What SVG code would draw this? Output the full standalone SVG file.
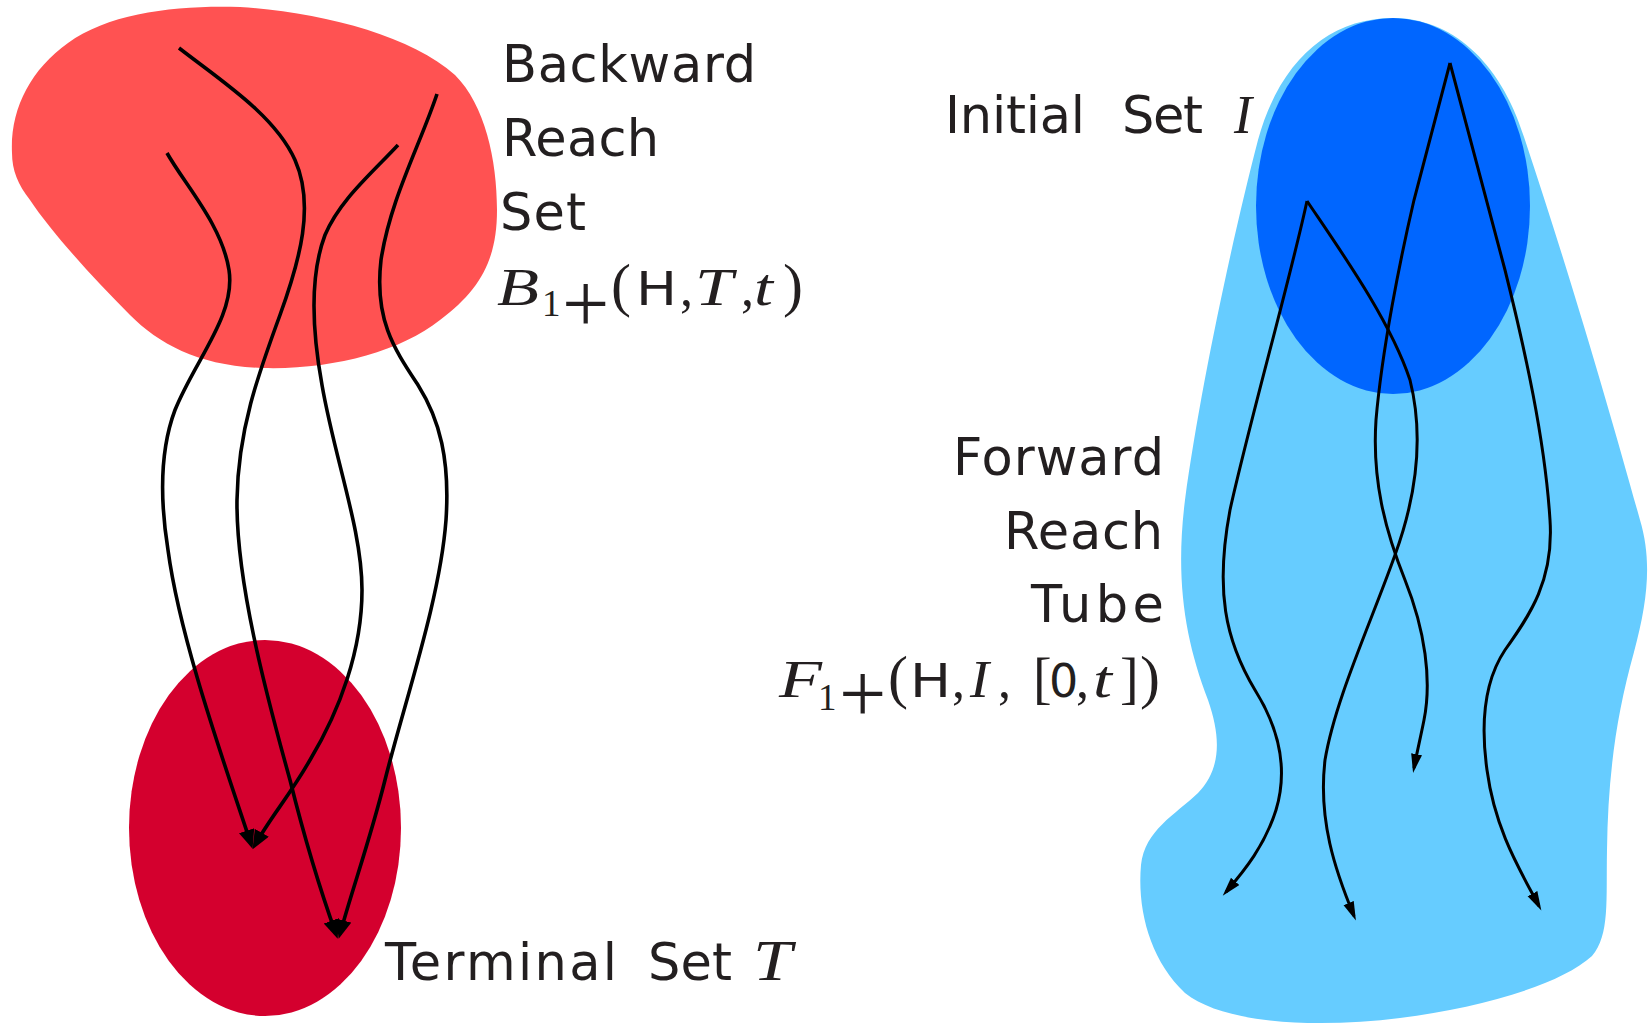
<svg xmlns="http://www.w3.org/2000/svg" width="1648" height="1024" viewBox="0 0 1648 1024">
<style>
.lbl{font-family:"DejaVu Sans",sans-serif;font-size:51px;fill:#231F20}
.m{font-family:"Liberation Serif",serif;font-size:52px;fill:#231F20}
.mi{font-style:italic}
.ms{font-family:"DejaVu Sans",sans-serif;font-size:46px}
.sub{font-size:37px}
.pl{font-size:84px}
.pa{font-size:60px}
.br{font-size:56px}
.trajL{fill:none;stroke:#000;stroke-width:3.6;marker-end:url(#ahL)}
.trajR{fill:none;stroke:#000;stroke-width:3;marker-end:url(#ahR)}
</style>
<defs>
<marker id="ahL" markerUnits="userSpaceOnUse" markerWidth="20" markerHeight="18" refX="14" refY="8" orient="auto"><path d="M0,0 L19,8 L0,16 Z" fill="#000"/></marker>
<marker id="ahR" markerUnits="userSpaceOnUse" markerWidth="20" markerHeight="12" refX="14" refY="5.5" orient="auto"><path d="M0,0 L19,5.5 L0,11 Z" fill="#000"/></marker>
</defs>
<rect width="1648" height="1024" fill="#fff"/>
<g id="backward-reach-set">
<path d="M12,153 C10,110 30,70 68,43 C110,12 180,5 240,7 C320,12 410,35 455,75 C485,105 497,160 497,210 C497,260 480,290 440,320 C400,352 330,370 263,368 C200,366 160,345 130,315 C90,275 50,230 30,200 C18,185 12,170 12,153 Z" fill="#FF5252"/>
</g>
<g id="terminal-set">
<ellipse cx="265" cy="828" rx="136" ry="188" fill="#D4002E"/>
</g>
<g id="forward-reach-tube">
<path d="M1258,140 C1232,240 1200,390 1185,500 C1175,580 1185,640 1208,700 C1222,740 1220,770 1198,793 C1175,815 1145,830 1141,865 C1137,910 1150,960 1185,993 C1225,1025 1320,1028 1400,1018 C1480,1008 1560,985 1592,956 C1610,935 1606,900 1607,850 C1608,780 1615,720 1634,652 C1648,600 1652,560 1640,520 C1615,430 1575,290 1524,137 C1500,60 1450,18 1393,18 C1330,18 1280,60 1258,140 Z" fill="#66CCFF"/>
</g>
<g id="initial-set">
<ellipse cx="1393" cy="206" rx="137" ry="188" fill="#0066FF"/>
</g>
<g id="connectors">
<path class="trajL" d="M167,153 C185,185 222,225 229,270 C236,315 195,360 175,410 C160,450 160,500 168,550 C180,640 225,765 251,844"/>
<path class="trajL" d="M179,48 C220,80 275,115 295,160 C315,205 300,260 280,315 C258,375 238,430 237,500 C236,580 265,690 290,780 C305,840 322,895 336,934"/>
<path class="trajL" d="M398,145 C370,175 340,200 325,235 C310,275 312,330 322,385 C335,460 362,530 362,590 C362,650 340,710 310,760 C290,795 270,818 255,845"/>
<path class="trajL" d="M437,94 C420,145 390,200 381,260 C374,320 395,350 418,385 C440,420 450,460 446,520 C440,600 405,700 385,780 C370,840 352,890 340,934"/>
<path class="trajR" d="M1450,63 L1414,200 C1400,260 1382,350 1376,420 C1372,480 1385,530 1405,580 C1425,630 1432,680 1424,720 C1420,740 1417,752 1414,768"/>
<path class="trajR" d="M1450,63 L1505,270 C1525,350 1545,440 1550,520 C1554,580 1530,615 1505,650 C1485,680 1480,720 1487,770 C1495,830 1520,870 1539,906"/>
<path class="trajR" d="M1307,201 C1290,280 1250,420 1230,510 C1215,590 1225,640 1255,690 C1280,730 1288,770 1276,810 C1265,845 1245,870 1226,892"/>
<path class="trajR" d="M1307,201 C1340,250 1390,320 1410,380 C1425,440 1415,500 1395,555 C1370,625 1335,700 1325,760 C1318,820 1335,870 1354,916"/>
</g>
<g id="label-backward">
<text class="lbl" x="502" y="82" textLength="254">Backward</text>
<text class="lbl" x="502" y="156" textLength="157">Reach</text>
<text class="lbl" x="500" y="230" textLength="86">Set</text>
<text class="m mi" x="497" y="305" textLength="42" lengthAdjust="spacingAndGlyphs">B</text>
<text class="m sub" x="542" y="316">1</text>
<text class="m pl" x="562" y="332">+</text>
<text class="m pa" x="611" y="305">(</text>
<text class="m ms" x="636" y="305" textLength="41" lengthAdjust="spacingAndGlyphs">H</text>
<text class="m" x="680" y="305">,</text>
<text class="m mi" x="695" y="305" textLength="38" lengthAdjust="spacingAndGlyphs">T</text>
<text class="m" x="741" y="305">,</text>
<text class="m mi" x="754" y="305" textLength="19" lengthAdjust="spacingAndGlyphs">t</text>
<text class="m pa" x="783" y="305">)</text>
</g>
<g id="label-terminal">
<text class="lbl" x="385" y="980" textLength="232">Terminal</text>
<text class="lbl" x="648" y="980" textLength="84">Set</text>
<text class="m mi" x="753" y="980" style="font-size:56px" textLength="39" lengthAdjust="spacingAndGlyphs">T</text>
</g>
<g id="label-initial">
<text class="lbl" x="945" y="133" textLength="140">Initial</text>
<text class="lbl" x="1122" y="133" textLength="81">Set</text>
<text class="m mi" x="1234" y="133" style="font-size:54px">I</text>
</g>
<g id="label-forward">
<text class="lbl" x="953" y="475" textLength="211">Forward</text>
<text class="lbl" x="1004" y="549" textLength="159">Reach</text>
<text class="lbl" x="1031" y="622" textLength="133">Tube</text>
<text class="m mi" x="779" y="697" textLength="43" lengthAdjust="spacingAndGlyphs">F</text>
<text class="m sub" x="818" y="710">1</text>
<text class="m pl" x="839" y="722">+</text>
<text class="m pa" x="888" y="697">(</text>
<text class="m ms" x="910" y="697" textLength="41" lengthAdjust="spacingAndGlyphs">H</text>
<text class="m" x="952" y="697">,</text>
<text class="m mi" x="970" y="697" textLength="19" lengthAdjust="spacingAndGlyphs">I</text>
<text class="m" x="998" y="697">,</text>
<text class="m br" x="1033" y="697">[</text>
<text class="m ms" x="1049" y="697">0</text>
<text class="m" x="1076" y="697">,</text>
<text class="m mi" x="1093" y="697" textLength="19" lengthAdjust="spacingAndGlyphs">t</text>
<text class="m br" x="1120" y="697">]</text>
<text class="m pa" x="1140" y="697">)</text>
</g>
</svg>
